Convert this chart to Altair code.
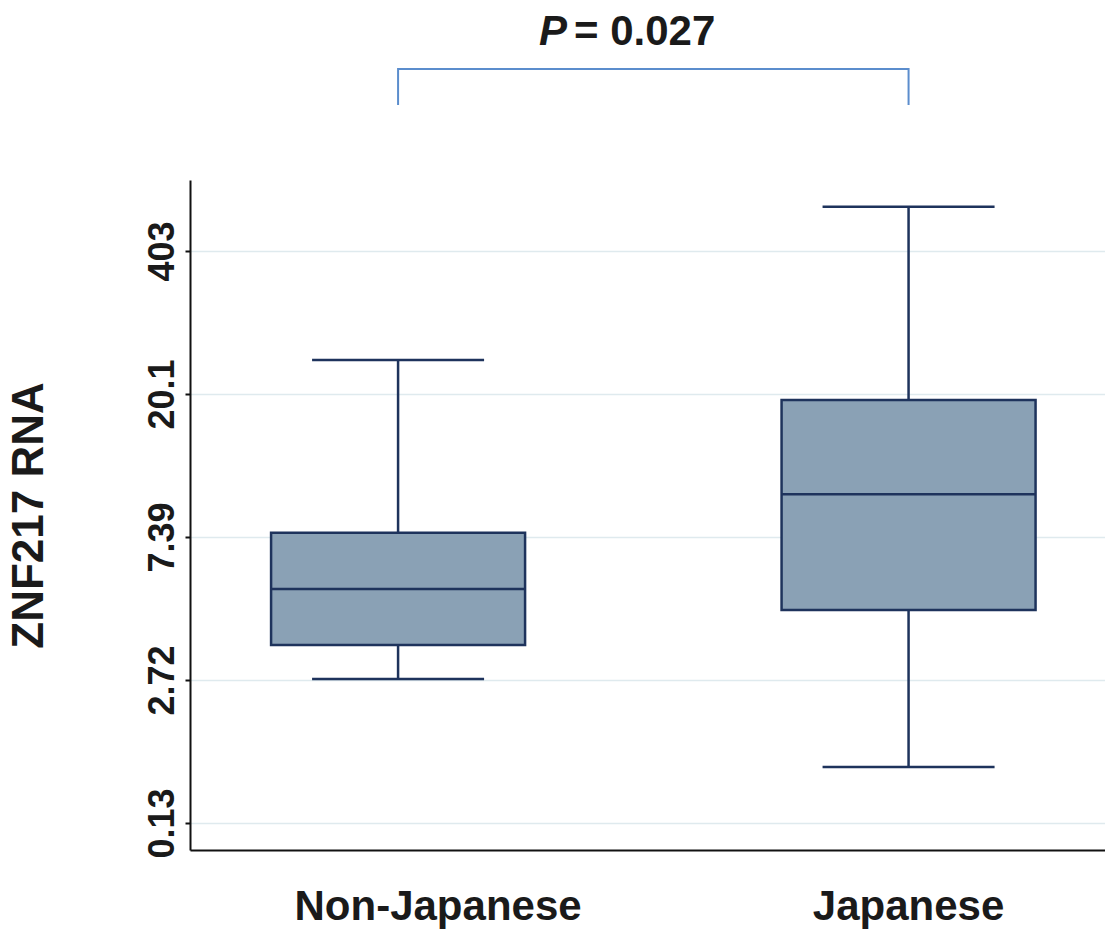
import altair as alt
import pandas as pd

# Box-plot summary per group, in axis units (one unit per labelled tick)
groups = ["Non-Japanese", "Japanese"]
whisker_low = [1.007, 0.392]
q1 = [1.244, 1.490]
median = [1.636, 2.300]
q3 = [2.030, 2.958]
whisker_high = [3.238, 4.310]

# Tick positions and their printed labels
tick_pos = [0, 1, 2, 3, 4]
tick_labels = ["0.13", "2.72", "7.39", "20.1", "403"]

# Significance bracket between the two groups
bracket_x = ["Non-Japanese", "Non-Japanese", "Japanese", "Japanese"]
bracket_y = [5.021, 5.273, 5.273, 5.021]
bracket_order = [0, 1, 2, 3]

FONT = "Liberation Sans"
BOX_FILL = "#8aa1b5"
BOX_LINE = "#1e335c"
BRACKET = "#5b8dcd"

df = pd.DataFrame({
    "group": groups,
    "lo": whisker_low,
    "q1": q1,
    "med": median,
    "q3": q3,
    "hi": whisker_high,
})
br = pd.DataFrame({"group": bracket_x, "y": bracket_y, "o": bracket_order})

label_expr = "[" + ",".join(f"'{t}'" for t in tick_labels) + "][datum.value]"

x_scale = alt.Scale(domain=groups, paddingInner=0.5, paddingOuter=0.1462, align=0.539)
y_scale = alt.Scale(domain=[-0.189, 4.497], nice=False, zero=False)

x_enc = alt.X(
    "group:N",
    scale=x_scale,
    sort=groups,
    axis=alt.Axis(
        title=None,
        labelAngle=0,
        labelFont=FONT,
        labelFontSize=42,
        labelFontWeight="bold",
        labelColor="#1a1a1a",
        labelPadding=36,
        labelLimit=0,
        labelOffset=alt.condition("datum.value == 'Non-Japanese'", alt.value(40), alt.value(0)),
        ticks=False,
        domainColor="#111111",
        domainWidth=2,
        grid=False,
    ),
)

y_axis = alt.Axis(
    title="ZNF217 RNA",
    titleFont=FONT,
    titleFontSize=44,
    titleFontWeight="bold",
    titleColor="#1a1a1a",
    titleAngle=-90,
    titleX=-148,
    titleBaseline="alphabetic",
    values=tick_pos,
    labelExpr=label_expr,
    labelAngle=-90,
    labelAlign="center",
    labelBaseline="alphabetic",
    labelFont=FONT,
    labelFontSize=36,
    labelFontWeight="bold",
    labelColor="#1a1a1a",
    labelPadding=12,
    tickSize=5,
    tickWidth=2,
    tickColor="#111111",
    domainColor="#111111",
    domainWidth=2,
    grid=True,
    gridColor="#dfeaee",
    gridWidth=1.5,
)

base = alt.Chart(df)

whiskers = base.mark_rule(color=BOX_LINE, strokeWidth=2.5).encode(
    x=x_enc,
    y=alt.Y("lo:Q", scale=y_scale, axis=y_axis),
    y2="hi:Q",
)

caps_low = base.mark_tick(color=BOX_LINE, size=172, thickness=2.5, orient="horizontal", opacity=1).encode(
    x=alt.X("group:N", scale=x_scale, sort=groups),
    y=alt.Y("lo:Q", scale=y_scale),
)
caps_high = base.mark_tick(color=BOX_LINE, size=172, thickness=2.5, orient="horizontal", opacity=1).encode(
    x=alt.X("group:N", scale=x_scale, sort=groups),
    y=alt.Y("hi:Q", scale=y_scale),
)

boxes = base.mark_bar(fill=BOX_FILL, stroke=BOX_LINE, strokeWidth=2.5, size=254, opacity=1).encode(
    x=alt.X("group:N", scale=x_scale, sort=groups),
    y=alt.Y("q1:Q", scale=y_scale),
    y2="q3:Q",
)

medians = base.mark_tick(color=BOX_LINE, size=254, thickness=2.5, orient="horizontal", opacity=1).encode(
    x=alt.X("group:N", scale=x_scale, sort=groups),
    y=alt.Y("med:Q", scale=y_scale),
)

bracket = alt.Chart(br).mark_line(color=BRACKET, strokeWidth=2, clip=False).encode(
    x=alt.X("group:N", scale=x_scale, sort=groups),
    y=alt.Y("y:Q", scale=y_scale),
    order="o:Q",
)

p_letter = alt.Chart(pd.DataFrame({"t": ["P"]})).mark_text(
    font=FONT, fontSize=42, fontWeight="bold", fontStyle="italic",
    align="right", baseline="alphabetic", color="#1a1a1a",
).encode(text="t:N", x=alt.value(377), y=alt.value(-135))

p_value = alt.Chart(pd.DataFrame({"t": ["= 0.027"]})).mark_text(
    font=FONT, fontSize=42, fontWeight="bold",
    align="left", baseline="alphabetic", color="#1a1a1a",
).encode(text="t:N", x=alt.value(384), y=alt.value(-135))

chart = alt.layer(
    whiskers, caps_low, caps_high, boxes, medians, bracket, p_letter, p_value
).properties(
    width=915,
    height=670,
    autosize=alt.AutoSizeParams(type="none"),
    padding={"left": 190, "top": 180, "right": 0, "bottom": 80},
    background="white",
).configure_view(stroke=None)

chart.save("out.html", embed_options={"renderer": "svg", "actions": False})
